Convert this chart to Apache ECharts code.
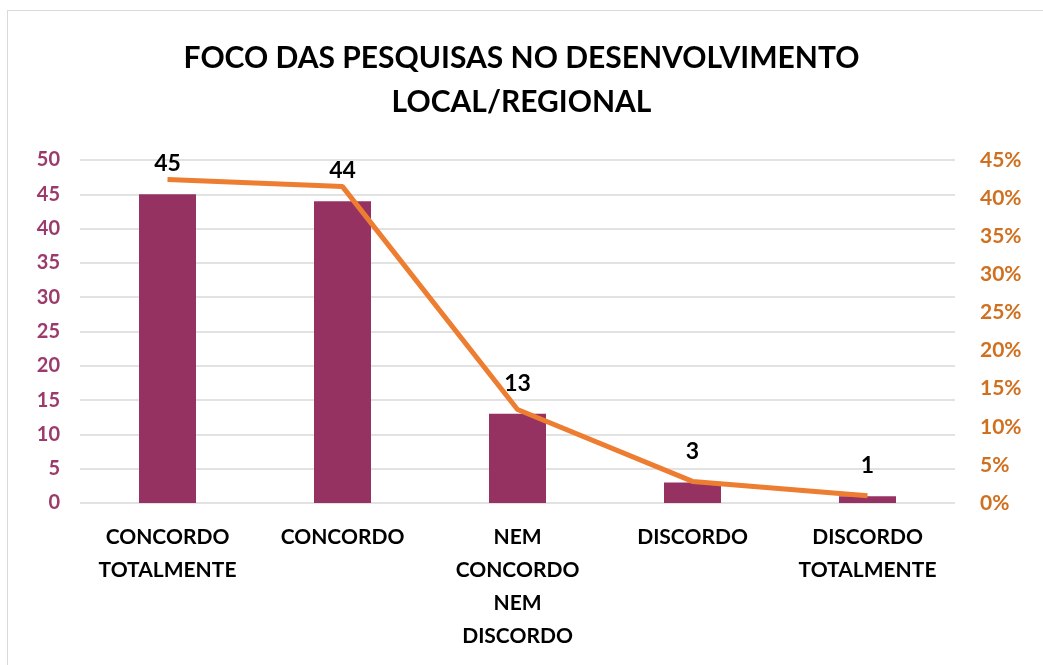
<!DOCTYPE html>
<html>
<head>
<meta charset="utf-8">
<script src="https://cdn.jsdelivr.net/npm/echarts@6/dist/echarts.min.js"></script>
<style>
  html, body { margin: 0; padding: 0; background: #fff; }
  #frame { position: absolute; left: 7px; top: 10px; width: 1040px; height: 660px; border: 1px solid #d9d9d9; box-sizing: border-box; }
  #chart-panel { position: absolute; left: 0; top: 0; width: 1043px; height: 665px; }
</style>
</head>
<body>
<div id="frame"></div>
<div id="chart-panel"></div>
<script>
var categories = ['CONCORDO\nTOTALMENTE', 'CONCORDO', 'NEM\nCONCORDO\nNEM\nDISCORDO', 'DISCORDO', 'DISCORDO\nTOTALMENTE'];
var counts = [45, 44, 13, 3, 1];
var percents = [0.4245, 0.4151, 0.1226, 0.0283, 0.0094];
var leftTicks = [0, 50, 5];
var rightTicks = [0, 0.45, 0.05];

var fontName = 'Lato, "Open Sans", sans-serif';

option = {
    title: {
        text: 'FOCO DAS PESQUISAS NO DESENVOLVIMENTO\nLOCAL/REGIONAL',
        left: 'center',
        top: 31,
        textStyle: {
            fontFamily: fontName,
            fontWeight: 'bold',
            fontSize: 30,
            lineHeight: 44,
            color: '#000'
        }
    },
    grid: {
        left: 80,
        right: 88,
        top: 160,
        bottom: 162
    },
    xAxis: {
        type: 'category',
        data: categories,
        axisLine: {show: false},
        axisTick: {show: false},
        axisLabel: {
            interval: 0,
            margin: 18,
            fontFamily: fontName,
            fontWeight: 'bold',
            fontSize: 21,
            lineHeight: 33,
            color: '#000'
        }
    },
    yAxis: [{
        type: 'value',
        min: leftTicks[0],
        max: leftTicks[1],
        interval: leftTicks[2],
        axisLine: {show: false},
        axisTick: {show: false},
        axisLabel: {
            margin: 20,
            fontFamily: fontName,
            fontWeight: 'bold',
            fontSize: 20,
            color: '#9b3a6b'
        },
        splitLine: {lineStyle: {color: '#d9d9d9', width: 1.5}}
    }, {
        type: 'value',
        min: rightTicks[0],
        max: rightTicks[1],
        interval: rightTicks[2],
        axisLine: {show: false},
        axisTick: {show: false},
        splitLine: {show: false},
        axisLabel: {
            margin: 25,
            fontFamily: fontName,
            fontWeight: 'bold',
            fontSize: 21,
            color: '#d0701f',
            formatter: function (v) { return Math.round(v * 100) + '%'; }
        }
    }],
    series: [{
        type: 'bar',
        data: counts,
        barWidth: 57,
        itemStyle: {color: '#963262'},
        label: {
            show: true,
            position: 'top',
            distance: 19,
            fontFamily: fontName,
            fontWeight: 'bold',
            fontSize: 23,
            color: '#000'
        },
        z: 2
    }, {
        type: 'line',
        yAxisIndex: 1,
        data: percents,
        showSymbol: false,
        symbol: 'none',
        lineStyle: {color: '#ed7d31', width: 5},
        z: 3
    }]
};
var myChart = echarts.init(document.getElementById('chart-panel'));
myChart.setOption(option);
</script>
</body>
</html>
